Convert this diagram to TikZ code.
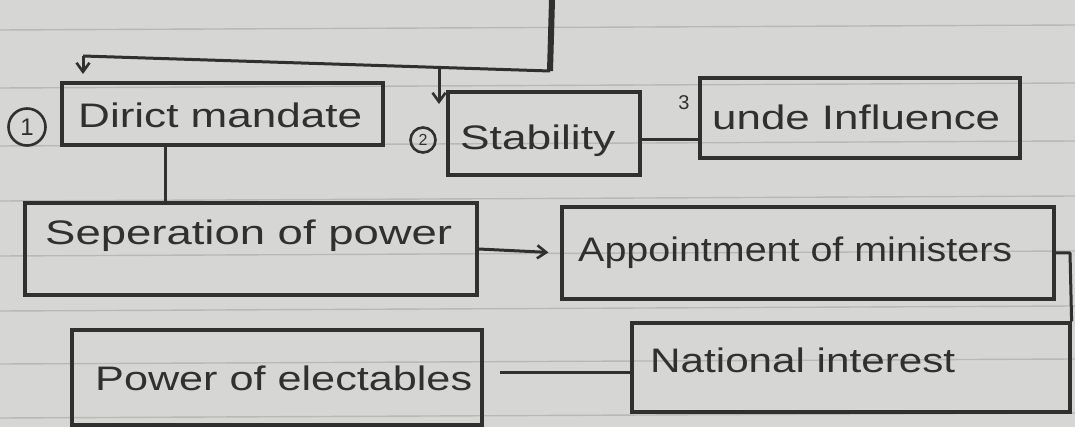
\documentclass[tikz,border=0pt]{standalone}
\usepackage{fontspec}
\setmainfont{Liberation Sans}
\usetikzlibrary{arrows.meta}
\definecolor{paper}{HTML}{D6D6D4}
\definecolor{rulecol}{HTML}{B8B8B7}
\definecolor{ink}{HTML}{303030}
\newcommand\inkfit[2]{\resizebox{#1pt}{\height}{#2}}
\begin{document}
\begin{tikzpicture}[x=1pt,y=-1pt,
  box/.style={draw=ink, line width=3.2pt, inner sep=0pt},
  txt/.style={anchor=base west, inner sep=0pt, text=ink, font=\fontsize{34}{40}\selectfont},
  wire/.style={draw=ink, line width=3pt, line join=round},
  arrowwire/.style={wire, -{Straight Barb[length=9pt,width=13pt,line width=2.6pt]}},
  numcirc/.style={circle, draw=ink, line width=2.6pt, inner sep=0pt, text=ink}]
% paper
\fill[paper] (0,0) rectangle (1075,427);
\useasboundingbox (0,0) rectangle (1075,427);
\foreach \yy in {30,88,146,201,256,311,364,418}
  \draw[rulecol, line width=1.4pt] (0,\yy) -- (1075,\yy-5);
% boxes
\node[box, minimum width=321pt, minimum height=62pt] (dm) at (222.5,114) {};
\node[box, minimum width=192pt, minimum height=83pt] (st) at (544,133.5) {};
\node[box, minimum width=320pt, minimum height=80pt] (ui) at (860,118) {};
\node[box, minimum width=452pt, minimum height=92pt] (sp) at (251,249) {};
\node[box, minimum width=492pt, minimum height=92pt] (ap) at (808,253) {};
\node[box, minimum width=410pt, minimum height=95pt] (pe) at (277,377.5) {};
\node[box, minimum width=438pt, minimum height=89pt] (ni) at (851,367.5) {};
% texts
\node[txt] (dmt) at (78,128) {\inkfit{284}{Dirict mandate}};
\node[txt] (stt) at (460,150) {\inkfit{155}{Stability}};
\node[txt] (uit) at (712,130) {\inkfit{288}{unde Influence}};
\node[txt] (spt) at (45,245) {\inkfit{407}{Seperation of power}};
\node[txt] (apt) at (578,262) {\inkfit{434}{Appointment of ministers}};
\node[txt] (pet) at (95,390) {\inkfit{377}{Power of electables}};
\node[txt] (nit) at (650,372) {\inkfit{305}{National interest}};
% numbers
\node[numcirc, minimum size=37pt, font=\fontsize{24}{24}\selectfont] (n1) at (27,127) {1};
\node[numcirc, minimum size=25pt, font=\fontsize{16}{16}\selectfont] (n2) at (423,140) {2};
\node[text=ink, inner sep=0pt, font=\fontsize{20}{20}\selectfont] (n3) at (684,103) {3};
% top connector
\coordinate (topin) at (552,0);
\coordinate (join) at (550,71);
\coordinate (lft) at (83,56);
\coordinate (lfttip) at (83,74);
\coordinate (brn) at (439,67);
\coordinate (brntip) at (439,104);
\draw[ink, line width=6pt] (topin) -- (join);
\draw[wire] (join) -- (lft);
\draw[arrowwire] (lft) -- (lfttip);
\draw[arrowwire] (brn) -- (brntip);
% stability -> undue influence
\coordinate (ste) at ([yshift=-6pt]st.east);
\draw[wire] (ste) -- (ui.west |- ste);
% direct mandate -> separation
\coordinate (dmb) at (165,145);
\draw[wire] (dmb) -- (dmb |- sp.north);
% separation -> appointment
\draw[arrowwire, shorten >=12pt] (sp.east) -- (ap.west);
% appointment -> national interest (right edge)
\coordinate (rt1) at (1070,253);
\draw[wire] (ap.east) -- (rt1) -- (ni.north east);
% electables -- national interest
\coordinate (pel) at (500,372);
\draw[wire] (pel) -- (ni.west |- pel);
\end{tikzpicture}
\end{document}
